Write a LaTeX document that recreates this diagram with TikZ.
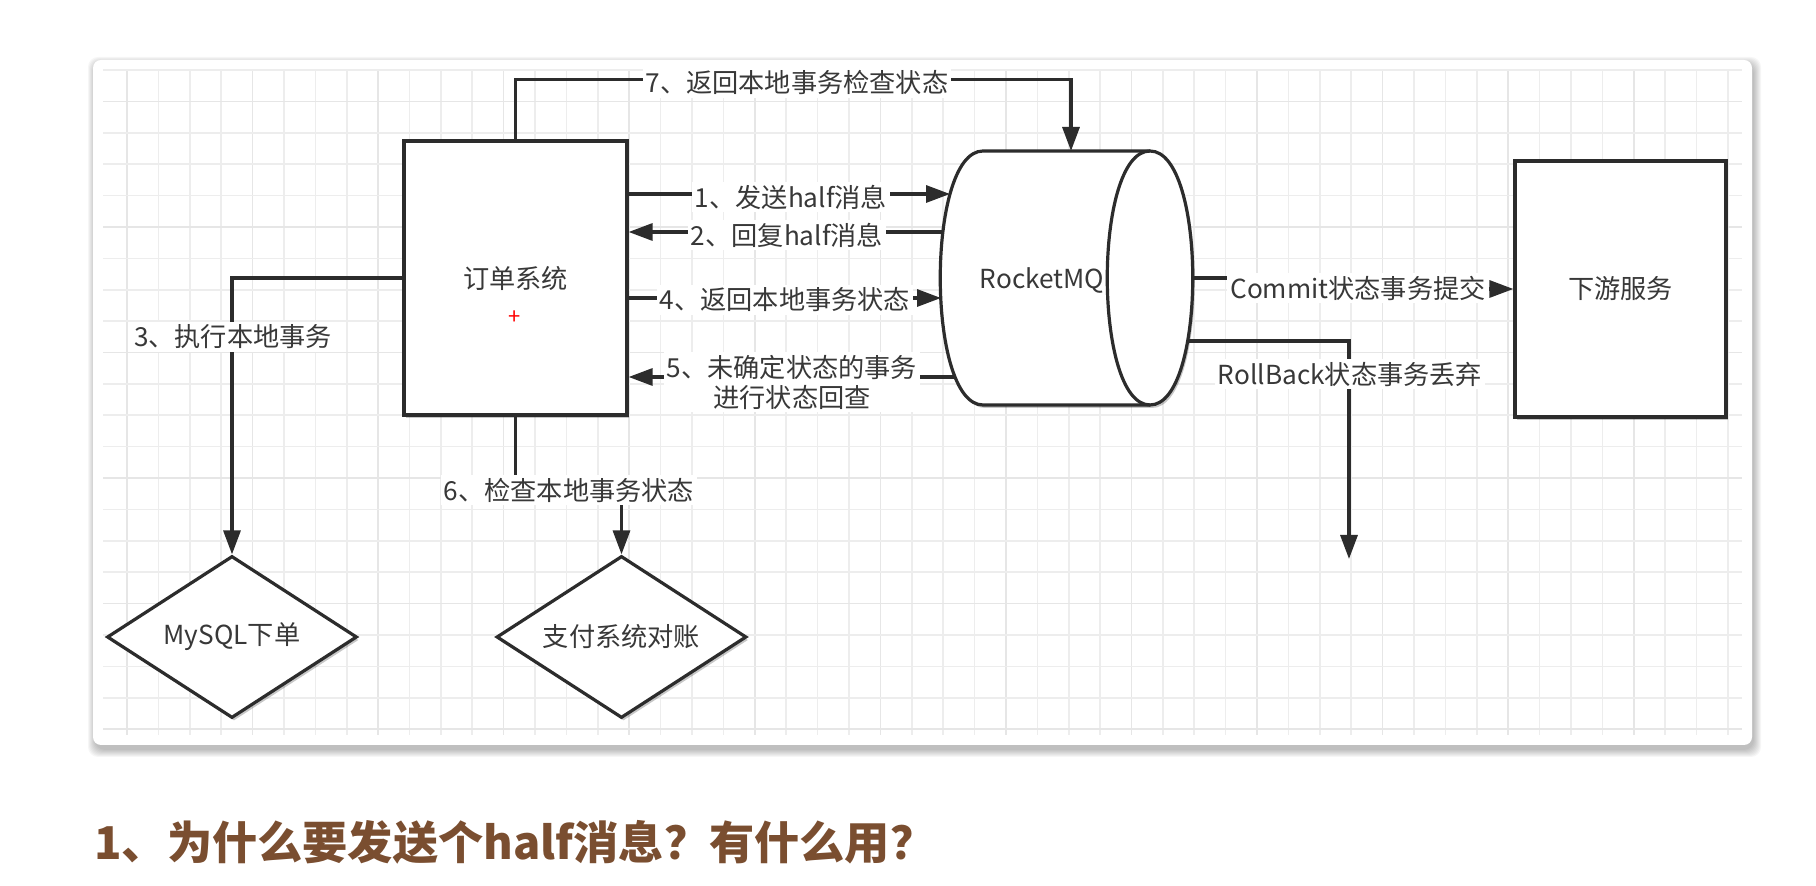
\documentclass[tikz,border=0pt]{standalone}
\usepackage{fontspec}
\setmainfont{Noto Sans CJK SC}
\usetikzlibrary{arrows.meta,shapes.geometric,shadows}
\definecolor{linec}{HTML}{2C2C2C}
\definecolor{textc}{HTML}{383838}
\definecolor{gridc}{HTML}{EDEDED}
\definecolor{gridm}{HTML}{E6E6E6}
\definecolor{titlec}{RGB}{122,78,48}
\tikzset{
  conn/.style={draw=linec, line width=1.6pt},
  arr/.style={conn, -{Triangle[length=12pt,width=8.5pt]}},
  lbl/.style={fill=white, text=textc, font=\fontsize{13.1pt}{15pt}\selectfont, inner sep=1.5pt},
  shp/.style={draw=linec, line width=1.6pt, fill=white, text=textc,
    font=\fontsize{13.1pt}{15pt}\selectfont,
    drop shadow={shadow xshift=1pt, shadow yshift=-1.5pt, opacity=0.22, fill=black}},
  boxn/.style={shp, rectangle, inner sep=0pt},
  dia/.style={shp, diamond, inner sep=0pt, aspect=1.54, minimum width=125pt, minimum height=81pt},
}
\begin{document}
\begin{tikzpicture}[x=0.5pt,y=-0.5pt]
\useasboundingbox (0,0) rectangle (1816,886);
% card shadow and card
\foreach \i in {0,...,7}{
  \fill[black,opacity=0.035,rounded corners=5pt] (95-\i,64-\i) rectangle (1754+\i,750+\i);
}
\fill[white,rounded corners=4pt] (93,60) rectangle (1752,745);
% grid
\foreach \k in {0,...,51}{
  \pgfmathtruncatemacro\m{mod(\k,4)}
  \ifnum\m=0 \def\gc{gridm}\else\def\gc{gridc}\fi
  \draw[\gc,line width=0.8pt] ({127+31.39*\k},70) -- ({127+31.39*\k},735);
}
\foreach \k in {0,...,21}{
  \pgfmathtruncatemacro\m{mod(\k,4)}
  \ifnum\m=1 \def\gc{gridm}\else\def\gc{gridc}\fi
  \draw[\gc,line width=0.8pt] (103,{70+31.39*\k}) -- (1742,{70+31.39*\k});
}
% shapes
\node[boxn, minimum width=111.5pt, minimum height=137pt] (order) at (515.5,278) {订单系统};
\node[text=red, font=\fontsize{11pt}{11pt}\selectfont, inner sep=0pt] (plus) at (515,318) {+};
\node[boxn, minimum width=105.5pt, minimum height=128pt] (down) at (1620.5,289) {下游服务};
\node[dia] (mysql) at (232,637) {MySQL下单};
\node[dia] (pay) at (621.5,637) {支付系统对账};
% cylinder
\filldraw[draw=linec, line width=1.6pt, fill=white,
  drop shadow={shadow xshift=1pt, shadow yshift=-1.5pt, opacity=0.22, fill=black}]
  (983,151) -- (1150,151) .. controls (1207,151) and (1207,405) .. (1150,405)
  -- (983,405) .. controls (926,405) and (926,151) .. (983,151) -- cycle;
\draw[draw=linec, line width=1.6pt] (1150,151) .. controls (1093,151) and (1093,405) .. (1150,405);
\node[text=textc, font=\fontsize{13.1pt}{15pt}\selectfont] (rmq) at (1042,280) {RocketMQ};
% attach points
\coordinate (c7) at (1071,151);
\coordinate (c1) at (950,194);
\coordinate (c2) at (943,232);
\coordinate (c4) at (941,298);
\coordinate (c5) at (955,377);
\coordinate (cR) at (1193,278);
\coordinate (cRB) at (1188,341);
\coordinate (cRBend) at (1349,559);
\coordinate (c6) at (569,490);
% connectors
\draw[arr] (order.north) -- ++(0,-60) -| (c7);
\node[lbl] (l7) at (797,83) {7、返回本地事务检查状态};
\draw[arr] (order.east |- c1) -- (c1);
\node[lbl] (l1) at (791,197) {1、发送half消息};
\draw[arr] (c2) -- (order.east |- c2);
\node[lbl] (l2) at (787,235) {2、回复half消息};
\draw[arr] (order.east |- c4) -- (c4);
\node[lbl] (l4) at (785,300) {4、返回本地事务状态};
\draw[arr] (c5) -- (order.east |- c5);
\node[lbl, align=center] (l5) at (792,382) {5、未确定状态的事务\\进行状态回查};
\draw[arr] (order.west) -| (mysql.north);
\node[lbl] (l3) at (233,337) {3、执行本地事务};
\draw[arr] (order.south) |- (c6) -| (pay.north);
\node[lbl] (l6) at (569,490) {6、检查本地事务状态};
\draw[arr] (cR) -- ++(45,0) |- (down.west);
\node[lbl] (lc) at (1358,288) {Commit状态事务提交};
\draw[arr] (cRB) -| (cRBend);
\node[lbl] (lr) at (1350,374) {RollBack状态事务丢弃};
% title
\node[anchor=west, text=titlec, inner sep=0pt, font=\bfseries\fontsize{22.6pt}{25pt}\selectfont] (title) at (94,842) {1、为什么要发送个half消息？有什么用？};
\end{tikzpicture}
\end{document}
